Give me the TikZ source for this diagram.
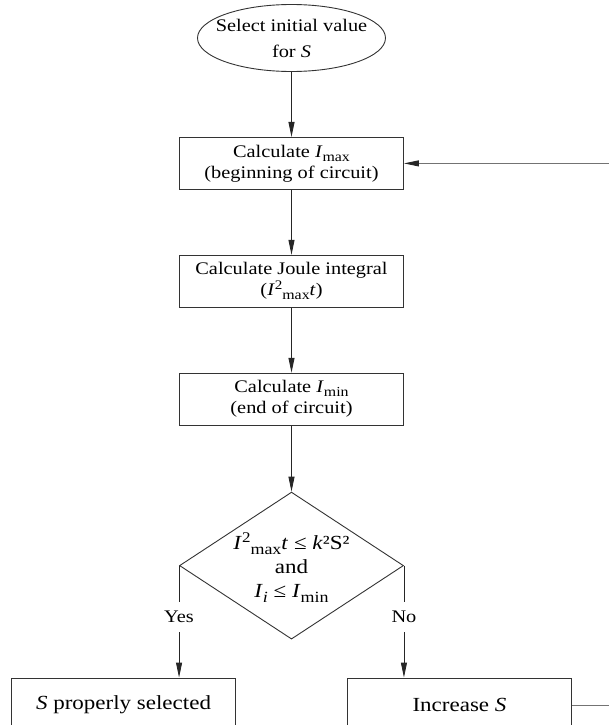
\documentclass[tikz,border=0pt]{standalone}
\usepackage{fontspec}
\setmainfont{Liberation Serif}[FakeStretch=1.15]
\usetikzlibrary{arrows.meta,positioning,shapes.geometric}
\newcommand{\lowidx}[1]{\raisebox{-0.22em}{\scalebox{0.78}{#1}}}
\newcommand{\highidx}[1]{\raisebox{0.36em}{\scalebox{0.74}{#1}}}

\begin{document}
\begin{tikzpicture}[
			node distance=65pt,
			start/.style={
				ellipse,
				draw=black!80,
				line width=0.9pt,
				minimum width=188pt,
				minimum height=67pt,
				inner xsep=-12pt,
				inner ysep=0pt,
				align=center,
				font=\fontsize{17.7}{26}\selectfont
			},
			process/.style={
				rectangle,
				draw=black!80,
				line width=0.9pt,
				minimum width=224pt,
				minimum height=52pt,
				inner sep=2pt,
				align=center,
				font=\fontsize{17.7}{21}\selectfont
			},
			decision/.style={
				diamond,
				draw=black!80,
				line width=0.9pt,
				minimum width=224pt,
				minimum height=147pt,
				inner sep=0pt
			},
			result/.style={
				rectangle,
				draw=black!80,
				line width=0.9pt,
				minimum width=224pt,
				minimum height=54pt,
				font=\fontsize{20}{24}\selectfont
			},
			tag/.style={
				fill=white,
				inner xsep=1pt,
				inner ysep=9pt,
				font=\fontsize{17.7}{20}\selectfont
			},
			arrow/.style={
				-{Triangle[length=15pt,width=6pt]},
				line width=0.9pt,
				draw=black!85
			},
			back/.style={
				-{Triangle[length=15pt,width=6pt,color=black!85]},
				line width=0.9pt,
				draw=black!55
			}
			]
			\useasboundingbox (0,0) rectangle (609pt,-725pt);
			\clip (0,0) rectangle (609pt,-725pt);
			
			% main column
			\node[start] (init) at (291.5pt,-38pt) {Select initial value\\for \textit{S}};
			\node[process, below=of init] (calcmax) {Calculate \textit{I}\lowidx{max}\\(beginning of circuit)};
			\node[process, below=of calcmax] (joule) {Calculate Joule integral\\(\textit{I}\highidx{2}\lowidx{max}\textit{t})};
			\node[process, below=of joule] (calcmin) {Calculate \textit{I}\lowidx{min}\\(end of circuit)};
			\node[decision, below=66pt of calcmin] (check) {};
			\node[align=center, inner sep=0pt, font=\fontsize{20}{24}\selectfont] (cond) at ([yshift=-2pt]check.center)
				{\textit{I}\highidx{2}\lowidx{max}\textit{t} ≤ \textit{k}²S²\\and\\\textit{I}\lowidx{\textit{i}} ≤ \textit{I}\lowidx{min}};
			
			% outcomes
			\node[result, below=38pt of check, xshift=-168pt] (good) {\textit{S} properly selected};
			\node[result, below=38pt of check, xshift=168pt] (grow) {Increase \textit{S}};
			
			% arrows
			\draw[arrow] (init) -- (calcmax);
			\draw[arrow] (calcmax) -- (joule);
			\draw[arrow] (joule) -- (calcmin);
			\draw[arrow] (calcmin) -- (check);
			\draw[arrow] (check.west) -- node[tag, pos=0.46] (yes) {Yes} (check.west |- good.north);
			\draw[arrow] (check.east) -- node[tag, pos=0.46] (no) {No} (check.east |- grow.north);
			\draw[back] (grow.east) -- ++(60pt,0) |- (calcmax.east);
		\end{tikzpicture}
\end{document}
